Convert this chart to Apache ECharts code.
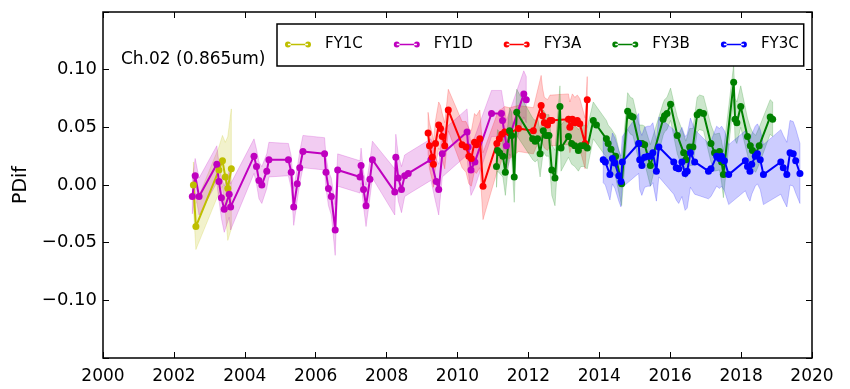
<!DOCTYPE html>
<html>
<head>
<meta charset="utf-8">
<script src="https://cdn.jsdelivr.net/npm/echarts@6/dist/echarts.min.js"></script>
<style>
  html, body { margin: 0; padding: 0; background: #fff; }
  #chart { width: 850px; height: 389px; }
</style>
</head>
<body>
<div id="chart"></div>
<script>
// values (decimal year, PDif, band half-width)
const fy1cYears = [2002.55, 2002.62, 2003.27, 2003.37, 2003.45, 2003.52, 2003.62];
const fy1cVals  = [0.000, -0.036, 0.013, 0.021, 0.007, -0.003, 0.014];
const fy1cSpread = [0.02, 0.02, 0.02, 0.022, 0.03, 0.045, 0.052];

const fy1dYears = [2002.52, 2002.60, 2002.71, 2003.21, 2003.27, 2003.34, 2003.42, 2003.56, 2003.60,
  2004.26, 2004.33, 2004.40, 2004.48, 2004.62, 2004.68, 2005.23, 2005.31, 2005.38, 2005.48, 2005.55, 2005.64,
  2006.25, 2006.29, 2006.36, 2006.44, 2006.55, 2006.62, 2007.25, 2007.28, 2007.35, 2007.42, 2007.53, 2007.60,
  2008.23, 2008.26, 2008.33, 2008.42, 2008.51, 2008.61, 2009.25, 2009.40, 2009.47, 2009.57,
  2010.27, 2010.30, 2010.38, 2010.49, 2010.96, 2011.24, 2011.27, 2011.38, 2011.87, 2011.94];
const fy1dVals = [-0.010, 0.008, -0.010, 0.018, 0.003, -0.011, -0.021, -0.008, -0.019,
  0.025, 0.016, 0.004, 0.000, 0.012, 0.022, 0.022, 0.011, -0.019, 0.001, 0.015, 0.029,
  0.027, 0.011, -0.003, -0.010, -0.039, 0.013, 0.007, 0.017, -0.004, -0.018, 0.005, 0.022,
  -0.006, 0.024, 0.006, -0.004, 0.008, 0.010, 0.022, 0.003, -0.004, 0.027,
  0.046, 0.033, 0.013, 0.020, 0.062, 0.062, 0.056, 0.034, 0.079, 0.074];
const fy1dSpread = [0.015, 0.015, 0.016, 0.016, 0.016, 0.018, 0.02, 0.02, 0.02,
  0.015, 0.015, 0.016, 0.016, 0.015, 0.015, 0.014, 0.014, 0.016, 0.014, 0.014, 0.014,
  0.014, 0.014, 0.015, 0.016, 0.022, 0.014, 0.014, 0.015, 0.015, 0.018, 0.016, 0.016,
  0.02, 0.02, 0.02, 0.02, 0.018, 0.018, 0.018, 0.02, 0.022, 0.02,
  0.02, 0.02, 0.022, 0.022, 0.02, 0.02, 0.02, 0.022, 0.02, 0.02];

const fy3aYears = [2009.17, 2009.21, 2009.29, 2009.32, 2009.38, 2009.47, 2009.52, 2009.57, 2009.64, 2009.74,
  2010.13, 2010.24, 2010.32, 2010.39, 2010.48, 2010.53, 2010.63, 2010.72,
  2011.11, 2011.18, 2011.25, 2011.33, 2011.47, 2011.72, 2012.14, 2012.36, 2012.40, 2012.45, 2012.54, 2012.61, 2012.66,
  2013.13, 2013.17, 2013.24, 2013.31, 2013.38, 2013.45, 2013.60, 2013.66];
const fy3aVals = [0.045, 0.034, 0.024, 0.018, 0.036, 0.052, 0.049, 0.042, 0.034, 0.065,
  0.035, 0.033, 0.025, 0.023, 0.037, 0.035, 0.040, -0.001,
  0.036, 0.040, 0.044, 0.046, 0.045, 0.049, 0.047, 0.069, 0.060, 0.054, 0.052, 0.056, 0.056,
  0.057, 0.050, 0.057, 0.054, 0.056, 0.053, 0.036, 0.074];
const fy3aSpread = [0.018, 0.02, 0.02, 0.02, 0.02, 0.02, 0.02, 0.02, 0.02, 0.018,
  0.02, 0.022, 0.024, 0.024, 0.025, 0.025, 0.025, 0.029,
  0.025, 0.025, 0.022, 0.022, 0.022, 0.02, 0.02, 0.026, 0.024, 0.022, 0.022, 0.022, 0.022,
  0.022, 0.022, 0.022, 0.022, 0.022, 0.022, 0.022, 0.02];

const fy3bYears = [2011.10, 2011.13, 2011.19, 2011.28, 2011.35, 2011.47, 2011.53, 2011.60, 2011.67,
  2012.12, 2012.19, 2012.26, 2012.33, 2012.42, 2012.50, 2012.58, 2012.66, 2012.75, 2012.89, 2012.92,
  2013.13, 2013.22, 2013.31, 2013.41, 2013.48, 2013.57, 2013.66, 2013.83, 2013.92,
  2014.20, 2014.25, 2014.33, 2014.46, 2014.63, 2014.80, 2014.88, 2014.95,
  2015.12, 2015.21, 2015.28, 2015.44, 2015.80, 2015.84, 2015.91, 2016.01,
  2016.20, 2016.38, 2016.44, 2016.55, 2016.64, 2016.76, 2016.83, 2016.94,
  2017.15, 2017.25, 2017.39, 2017.45, 2017.50, 2017.79, 2017.83, 2017.88, 2017.99,
  2018.18, 2018.26, 2018.32, 2018.41, 2018.51, 2018.82, 2018.89];
const fy3bVals = [0.016, 0.030, 0.028, 0.025, 0.011, 0.047, 0.043, 0.007, 0.063,
  0.040, 0.038, 0.040, 0.027, 0.047, 0.043, 0.043, 0.013, 0.006, 0.068, 0.032,
  0.042, 0.036, 0.034, 0.030, 0.034, 0.034, 0.032, 0.056, 0.052,
  0.040, 0.036, 0.031, 0.025, 0.001, 0.064, 0.060, 0.059,
  0.036, 0.036, 0.035, 0.017, 0.057, 0.060, 0.062, 0.070,
  0.043, 0.028, 0.022, 0.033, 0.033, 0.061, 0.063, 0.062,
  0.036, 0.028, 0.029, 0.020, 0.009, 0.089, 0.057, 0.054, 0.068,
  0.042, 0.034, 0.030, 0.027, 0.034, 0.059, 0.057];
const fy3bSpread = [0.018, 0.018, 0.018, 0.018, 0.02, 0.02, 0.02, 0.022, 0.02,
  0.018, 0.018, 0.018, 0.02, 0.018, 0.018, 0.018, 0.022, 0.024, 0.018, 0.02,
  0.018, 0.018, 0.018, 0.018, 0.018, 0.018, 0.018, 0.016, 0.016,
  0.016, 0.016, 0.018, 0.018, 0.019, 0.016, 0.016, 0.016,
  0.016, 0.016, 0.016, 0.018, 0.014, 0.014, 0.014, 0.014,
  0.016, 0.016, 0.016, 0.016, 0.016, 0.015, 0.015, 0.015,
  0.016, 0.016, 0.016, 0.018, 0.02, 0.015, 0.018, 0.018, 0.018,
  0.016, 0.016, 0.016, 0.016, 0.016, 0.015, 0.015];

const fy3cYears = [2014.11, 2014.17, 2014.30, 2014.37, 2014.44, 2014.55, 2014.61, 2014.65,
  2015.11, 2015.14, 2015.20, 2015.28, 2015.37, 2015.44, 2015.51, 2015.61, 2015.68,
  2016.10, 2016.17, 2016.24, 2016.33, 2016.42, 2016.48, 2016.57, 2016.69,
  2017.08, 2017.15, 2017.31, 2017.39, 2017.45, 2017.53, 2017.65,
  2018.12, 2018.18, 2018.25, 2018.30, 2018.40, 2018.46, 2018.54, 2018.63,
  2019.12, 2019.19, 2019.29, 2019.38, 2019.47, 2019.54, 2019.66];
const fy3cVals = [0.022, 0.020, 0.009, 0.023, 0.019, 0.008, 0.003, 0.020,
  0.036, 0.022, 0.017, 0.024, 0.025, 0.025, 0.028, 0.012, 0.033,
  0.020, 0.015, 0.014, 0.020, 0.010, 0.012, 0.028, 0.020,
  0.012, 0.014, 0.025, 0.023, 0.025, 0.021, 0.009,
  0.021, 0.016, 0.012, 0.018, 0.025, 0.027, 0.022, 0.009,
  0.020, 0.015, 0.009, 0.028, 0.027, 0.021, 0.010];
const fy3cSpread = [0.02, 0.02, 0.022, 0.022, 0.022, 0.022, 0.022, 0.022,
  0.026, 0.026, 0.026, 0.026, 0.026, 0.026, 0.026, 0.026, 0.026,
  0.028, 0.028, 0.03, 0.03, 0.032, 0.032, 0.03, 0.028,
  0.024, 0.024, 0.026, 0.026, 0.026, 0.026, 0.026,
  0.026, 0.026, 0.026, 0.026, 0.026, 0.026, 0.026, 0.026,
  0.028, 0.028, 0.028, 0.028, 0.028, 0.028, 0.026];

const yTicks = [-0.10, -0.05, 0.00, 0.05, 0.10];

const sats = [
  { name: 'FY1C', color: '#bfbf00', band: 'rgba(191,191,0,0.2)', x: fy1cYears, y: fy1cVals, s: fy1cSpread },
  { name: 'FY1D', color: '#bf00bf', band: 'rgba(191,0,191,0.2)', x: fy1dYears, y: fy1dVals, s: fy1dSpread },
  { name: 'FY3A', color: '#ff0000', band: 'rgba(255,0,0,0.2)',   x: fy3aYears, y: fy3aVals, s: fy3aSpread },
  { name: 'FY3B', color: '#008000', band: 'rgba(0,128,0,0.2)',   x: fy3bYears, y: fy3bVals, s: fy3bSpread },
  { name: 'FY3C', color: '#0000ff', band: 'rgba(0,0,255,0.2)',   x: fy3cYears, y: fy3cVals, s: fy3cSpread }
];

const font = '"DejaVu Sans", sans-serif';

let series = [];
// shaded bands (mean +- spread), one polygon per satellite
sats.forEach(d => {
  series.push({
    name: d.name + ' band', type: 'custom', silent: true, z: 1, clip: true,
    data: d.x.map((x, i) => [x, d.y[i] - d.s[i], d.y[i] + d.s[i]]),
    encode: { x: 0, y: [1, 2] },
    renderItem: (params, api) => {
      if (params.dataIndex !== 0) return null;
      const top = d.x.map((x, i) => api.coord([x, d.y[i] + d.s[i]]));
      const bot = d.x.map((x, i) => api.coord([x, d.y[i] - d.s[i]])).reverse();
      return {
        type: 'polygon',
        shape: { points: top.concat(bot) },
        style: { fill: d.band, stroke: d.band, lineWidth: 1 }
      };
    }
  });
});
sats.forEach(d => {
  series.push({
    name: d.name, type: 'line',
    data: d.x.map((x, i) => [x, d.y[i]]),
    color: d.color,
    symbol: 'circle', symbolSize: 7,
    lineStyle: { width: 2, color: d.color },
    itemStyle: { color: d.color },
    z: 3
  });
});

const legendIcon = 'path://M0,3.5a3.5,3.5 0 1,0 7,0a3.5,3.5 0 1,0 -7,0zM3.5,2.5h24v2h-24zM24,3.5a3.5,3.5 0 1,0 7,0a3.5,3.5 0 1,0 -7,0z';

const fmtY = v => {
  if (Math.abs(v) < 1e-9) return '0.00';
  if (!yTicks.some(t => Math.abs(t - v) < 1e-6)) return '';
  return v < 0 ? '\u2212' + Math.abs(v).toFixed(2) : v.toFixed(2);
};

const chart = echarts.init(document.getElementById('chart'));
chart.setOption({
  animation: false,
  backgroundColor: '#fff',
  textStyle: { fontFamily: font },
  title: {
    text: 'Ch.02 (0.865um)',
    left: 116, top: 46,
    textStyle: { fontFamily: font, fontSize: 17, fontWeight: 'normal', color: '#000' }
  },
  legend: {
    data: sats.map(d => d.name),
    left: 277, top: 24,
    icon: legendIcon,
    itemWidth: 26, itemHeight: 6,
    itemGap: 31,
    padding: [13, 5, 14, 8],
    borderColor: '#000', borderWidth: 1.5, borderRadius: 0,
    backgroundColor: '#fff',
    textStyle: { fontFamily: font, fontSize: 15, color: '#000', padding: [0, 0, 0, 9] }
  },
  grid: {
    left: 103, right: 38, top: 12, bottom: 31,
    show: true, borderColor: '#000', borderWidth: 1.5, backgroundColor: 'transparent'
  },
  xAxis: [{
    type: 'value', min: 2000, max: 2020, interval: 2,
    axisLine: { show: false, onZero: false },
    axisTick: { inside: true, length: 6, lineStyle: { color: '#000' } },
    axisLabel: { color: '#000', fontSize: 17, margin: 10, fontFamily: font, formatter: v => String(v) },
    splitLine: { show: false }
  }, {
    type: 'value', position: 'top', min: 2000, max: 2020, interval: 2,
    axisLine: { show: false, onZero: false },
    axisTick: { inside: true, length: 6, lineStyle: { color: '#000' } },
    axisLabel: { show: false },
    splitLine: { show: false }
  }],
  yAxis: [{
    type: 'value', min: -0.15, max: 0.15, interval: 0.05,
    name: 'PDif', nameLocation: 'middle', nameGap: 69,
    nameTextStyle: { color: '#000', fontSize: 19, fontFamily: font },
    axisLine: { show: false, onZero: false },
    axisTick: { inside: true, length: 6, lineStyle: { color: '#000' } },
    axisLabel: { color: '#000', fontSize: 18, margin: 6, fontFamily: font, formatter: fmtY },
    splitLine: { show: false }
  }, {
    type: 'value', position: 'right', min: -0.15, max: 0.15, interval: 0.05,
    axisLine: { show: false, onZero: false },
    axisTick: { inside: true, length: 6, lineStyle: { color: '#000' } },
    axisLabel: { show: false },
    splitLine: { show: false }
  }],
  series: series
});
</script>
</body>
</html>
